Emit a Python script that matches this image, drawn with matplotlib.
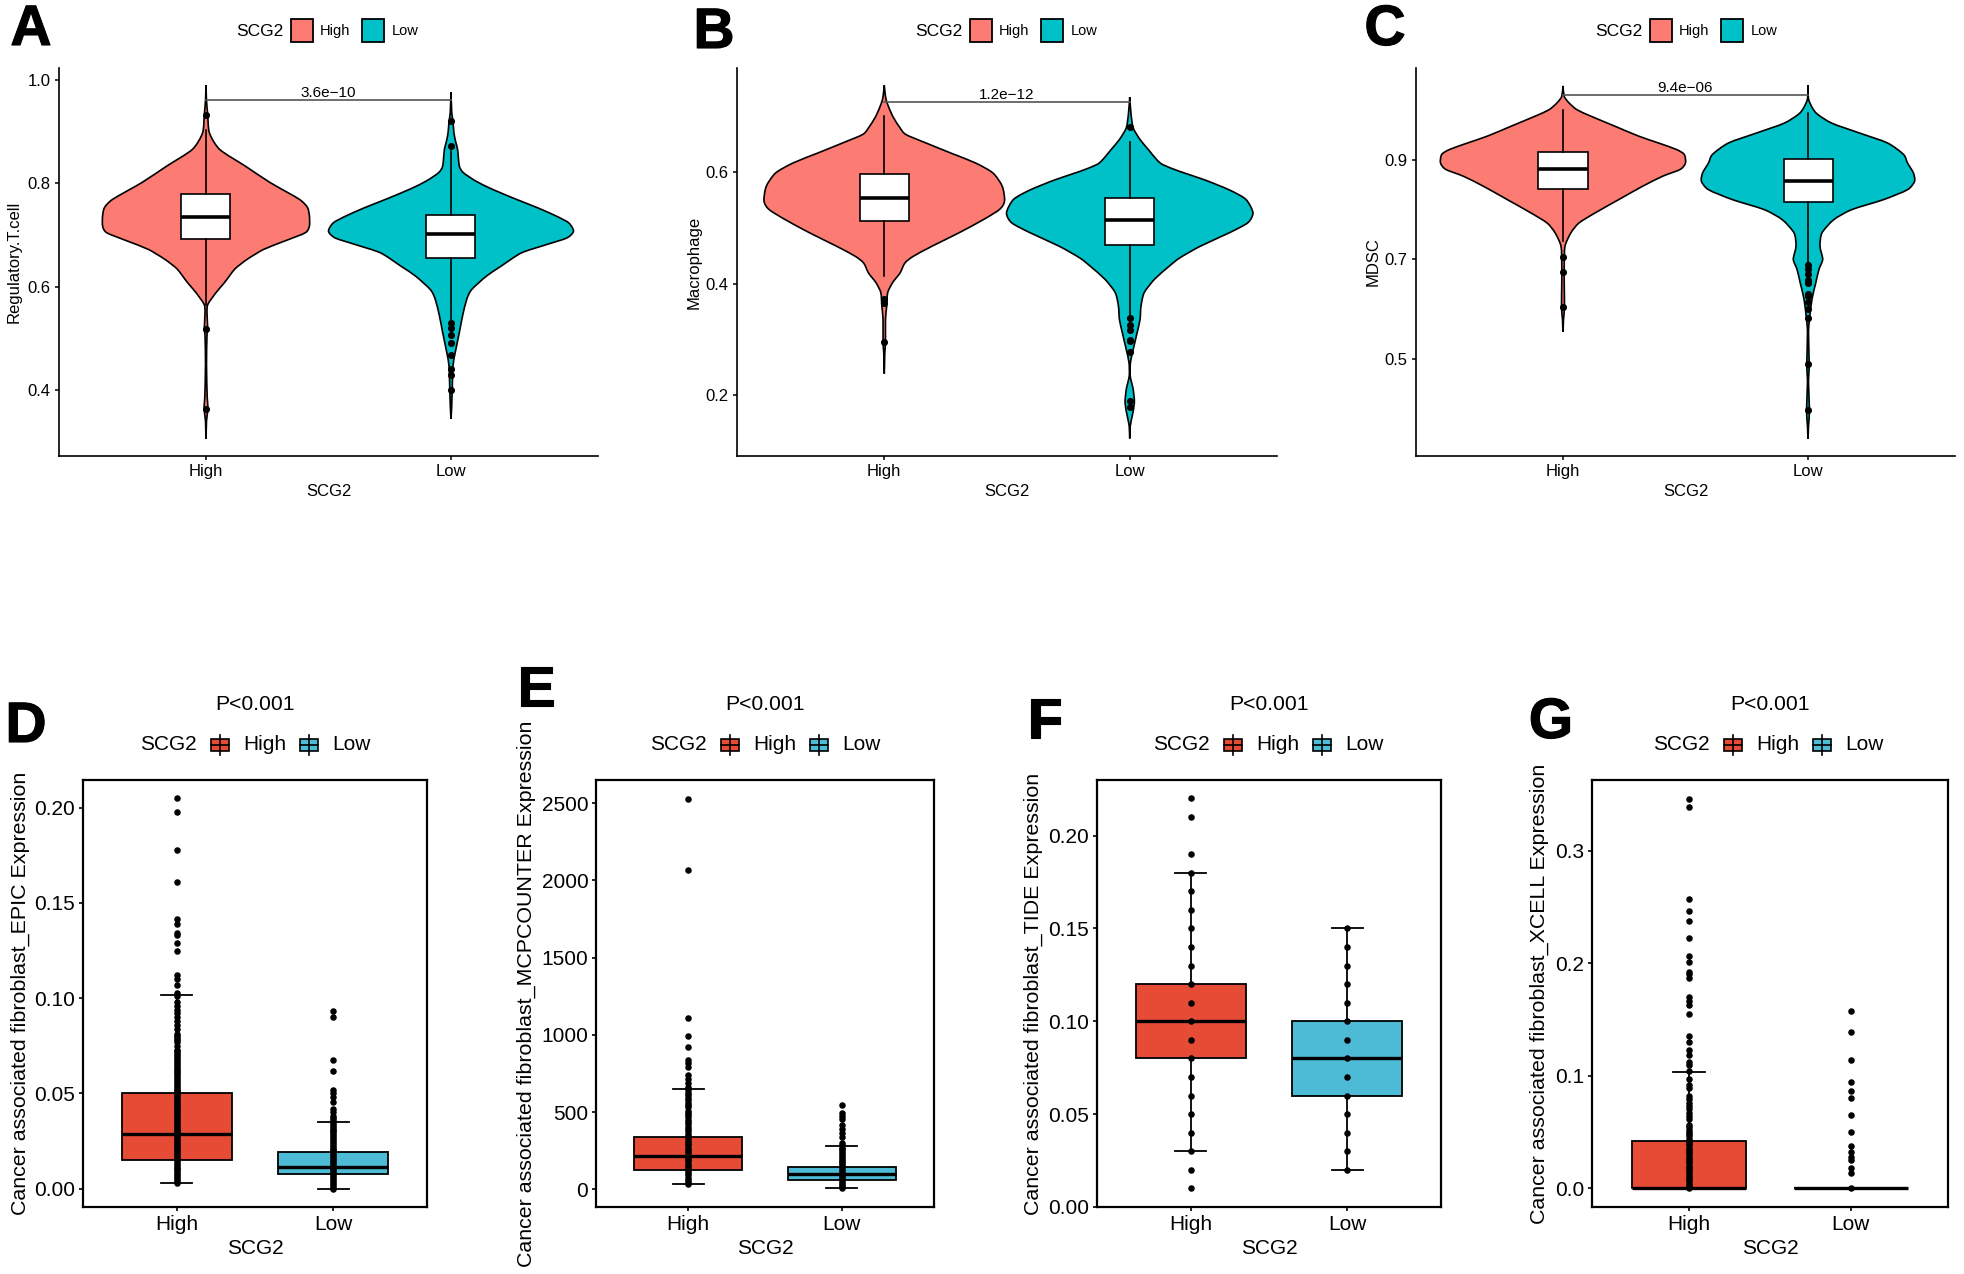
import matplotlib
matplotlib.use("Agg")
import matplotlib.pyplot as plt
import matplotlib.patheffects as pe
from matplotlib.patches import Rectangle, PathPatch
from matplotlib.path import Path
from matplotlib.lines import Line2D

plt.rcParams['font.family'] = ['Liberation Sans', 'DejaVu Sans']

W, H = 1965, 1274

groups = ["High", "Low"]
legend_title = "SCG2"

# violin outlines: value, half width
a_high_y = [.989, .960, .932, .897, .865, .833, .801, .769, .753, .737, .717, .704, .688, .672, .653, .634, .608, .589, .566, .550, .518, .505, .449, .385, .365, .340, .306]
a_high_w = [0, .002, .007, .014, .056, .160, .262, .380, .414, .422, .422, .405, .321, .236, .169, .118, .076, .042, .008, .004, .007, .004, .002, .005, .008, .002, 0]
a_low_y = [.976, .936, .920, .897, .878, .865, .833, .820, .804, .788, .768, .752, .736, .723, .707, .694, .681, .665, .639, .620, .594, .575, .543, .511, .472, .446, .401, .344]
a_low_w = [0, .003, .008, .012, .020, .027, .034, .051, .101, .169, .270, .355, .431, .481, .500, .473, .389, .287, .203, .144, .084, .064, .047, .034, .017, .008, .005, 0]
b_high_y = [.755, .735, .723, .700, .679, .667, .652, .634, .616, .598, .574, .548, .533, .515, .491, .467, .449, .437, .419, .402, .384, .360, .336, .294, .276, .239]
b_high_w = [0, .005, .012, .034, .064, .088, .169, .270, .372, .443, .481, .490, .470, .405, .304, .194, .118, .084, .064, .034, .014, .010, .005, .005, .002, 0]
b_low_y = [.734, .705, .679, .658, .640, .622, .613, .601, .586, .568, .551, .527, .509, .491, .467, .446, .431, .408, .384, .360, .336, .312, .282, .259, .235, .211, .187, .163, .145, .123]
b_low_w = [0, .005, .014, .042, .076, .110, .135, .203, .304, .405, .473, .502, .481, .405, .287, .203, .160, .101, .059, .046, .042, .030, .014, .003, .002, .014, .019, .010, .002, 0]
c_high_y = [1.049, 1.028, 1.015, 1.001, .988, .968, .948, .934, .921, .911, .894, .881, .867, .847, .820, .793, .773, .753, .726, .686, .653, .602, .579, .554]
c_high_w = [0, .005, .024, .057, .114, .211, .308, .390, .463, .495, .500, .479, .406, .325, .227, .130, .065, .032, .008, .005, .005, .006, .002, 0]
c_low_y = [1.050, 1.021, .995, .974, .954, .934, .911, .894, .874, .857, .840, .820, .800, .780, .753, .726, .700, .680, .653, .619, .579, .552, .488, .452, .396, .364, .339]
c_low_w = [0, .003, .032, .097, .211, .325, .390, .406, .430, .435, .406, .308, .179, .106, .057, .049, .060, .045, .032, .016, .006, .002, .005, .002, .006, .002, 0]

# boxes: whislo, q1, med, q3, whishi
a_high_box = [.565, .691, .734, .779, .903]
a_low_box = [.536, .655, .702, .739, .862]
b_high_box = [.413, .512, .553, .596, .700]
b_low_box = [.342, .470, .514, .554, .653]
c_high_box = [.736, .842, .882, .916, 1.001]
c_low_box = [.693, .816, .857, .901, .995]
d_high_box = [.003, .015, .0285, .050, .1018]
d_low_box = [0, .0077, .0115, .019, .0352]
e_high_box = [35, 122, 215, 340, 652]
e_low_box = [5, 62, 102, 147, 277]
f_high_box = [.03, .08, .10, .12, .18]
f_low_box = [.02, .06, .08, .10, .15]
g_high_box = [0, 0, 0, .0415, .103]
g_low_box = [0, 0, 0, 0, 0]

# points
a_high_pts = [.931, .518, .364]
a_low_pts = [.92, .871, .53, .52, .507, .491, .467, .44, .43, .40]
b_high_pts = [.372, .366, .295]
b_low_pts = [.68, .339, .327, .318, .30, .297, .278, .191, .18]
c_high_pts = [.704, .675, .603]
c_low_pts = [.688, .681, .671, .659, .653, .631, .626, .614, .599, .582, .489, .396]
d_high_pts = [.2049, .198, .178, .161, .1417, .139, .1344, .133, .129, .125, .112, .110, .107, .1025, .101, .098, .096, .094, .092, .090, .088, .086, .084, .081,
              .080, .079, .078, .077, .075, .073, .072, .071, .070, .069, .068, .067, .066, .065, .064, .063, .062, .061, .060, .059, .058, .057, .056, .055,
              .054, .053, .052, .051, .050, .049, .048, .047, .046, .045, .044, .043, .042, .041, .040, .039, .038, .037, .036, .035, .034, .033, .032, .031,
              .030, .029, .028, .027, .026, .025, .024, .023, .022, .021, .020, .019, .018, .017, .016, .015, .014, .013, .012, .011, .010, .009, .008, .007,
              .006, .005, .004, .003]
d_low_pts = [.0931, .0903, .0674, .0617, .0518, .050, .048, .0457, .042, .0403, .038, .037, .036, .035, .034, .033, .032, .031, .030, .029, .028, .027, .026, .025,
             .024, .023, .022, .021, .020, .019, .018, .017, .016, .015, .014, .013, .012, .011, .010, .009, .008, .007, .006, .005, .004, .003, .002, .001, 0]
e_high_pts = [2530, 2070, 1109, 992, 924, 839, 819, 794, 739, 714, 689, 664, 640, 625, 610, 590, 575, 560, 545, 530, 510, 495, 480, 465, 450, 435, 420, 405, 390,
              375, 360, 345, 330, 315, 300, 285, 270, 255, 240, 225, 210, 195, 180, 165, 150, 135, 120, 105, 90, 75, 60, 45, 35]
e_low_pts = [545, 495, 477, 452, 415, 390, 365, 340, 302, 285, 270, 258, 246, 234, 222, 210, 198, 186, 174, 162, 150, 138, 126, 114, 102, 90, 78, 66, 54, 42, 30, 18, 5]
f_high_pts = [.22, .21, .19, .18, .17, .16, .15, .14, .13, .12, .11, .10, .09, .08, .07, .06, .05, .04, .03, .02, .01]
f_low_pts = [.15, .14, .13, .12, .11, .10, .09, .08, .07, .06, .05, .04, .03, .02]
g_high_pts = [.346, .339, .257, .246, .2376, .222, .206, .201, .192, .19, .187, .17, .166, .163, .155, .135, .13, .123, .118, .112, .109, .104, .097, .092, .089,
              .082, .079, .076, .073, .070, .067, .064, .061, .056, .054, .052, .050, .048, .046, .044, .042, .040, .038, .036, .034, .032, .030, .028, .026,
              .024, .022, .020, .018, .016, .014, .012, .010, .008, .006, .004, .002, 0]
g_low_pts = [.157, .1385, .114, .0946, .0864, .080, .0651, .050, .037, .032, .028, .025, .018, .013, 0]

fig = plt.figure(figsize=(W / 100, H / 100), dpi=100, facecolor='white')


def make_axes(left, top, right, bottom):
    return fig.add_axes([left / W, 1 - bottom / H, (right - left) / W, (bottom - top) / H])


def box_stats(vals):
    return {'whislo': vals[0], 'q1': vals[1], 'med': vals[2], 'q3': vals[3], 'whishi': vals[4], 'fliers': []}


def draw_box(ax, boxes, width, capw, colors, lw, med_lw):
    res = ax.bxp([box_stats(b) for b in boxes], positions=[1, 2], widths=width, capwidths=capw,
                 patch_artist=True, showfliers=False, manage_ticks=False,
                 boxprops=dict(linewidth=lw, edgecolor='black'),
                 medianprops=dict(color='black', linewidth=med_lw, solid_capstyle='butt'),
                 whiskerprops=dict(color='black', linewidth=lw),
                 capprops=dict(color='black', linewidth=lw), zorder=3)
    for patch, c in zip(res['boxes'], colors):
        patch.set_facecolor(c)


def text_px(x, y, s, size, ha='center', **kw):
    fig.text(x / W, 1 - y / H, s, fontsize=size, ha=ha, va='center', **kw)


# curved outline through the read knots, goes down one side and back up the other
def violin_path(pos, y, w):
    xs = [pos + v for v in w] + [pos - v for v in w[::-1]][1:]
    ys = list(y) + list(y[::-1])[1:]
    verts = [(xs[0], ys[0])]
    codes = [Path.MOVETO]
    n = len(xs)
    for i in range(n - 1):
        x0, y0 = xs[max(i - 1, 0)], ys[max(i - 1, 0)]
        x1, y1 = xs[i], ys[i]
        x2, y2 = xs[i + 1], ys[i + 1]
        x3, y3 = xs[min(i + 2, n - 1)], ys[min(i + 2, n - 1)]
        verts += [(x1 + (x2 - x0) / 8, y1 + (y2 - y0) / 8), (x2 - (x3 - x1) / 8, y2 - (y3 - y1) / 8), (x2, y2)]
        codes += [Path.CURVE4] * 3
    return Path(verts, codes)


def violin_panel(rect, ylabel, ylabel_x, ylim, yticks, v_high, v_low, boxes, pts, bracket, ptext, letter, letter_xy, legend_x):
    ax = make_axes(*rect)
    for i, (y, w) in enumerate([v_high, v_low]):
        ax.add_patch(PathPatch(violin_path(i + 1, y, w), facecolor=['#FC7B72', '#00C1C8'][i],
                               edgecolor='black', linewidth=1.2, zorder=2))
    draw_box(ax, boxes, 0.2, 0.0, ['white', 'white'], 1.2, 2.6)
    for i, p in enumerate(pts):
        ax.scatter([i + 1] * len(p), p, s=26, color='black', zorder=4, linewidths=0)
    ax.plot([1, 2], [bracket, bracket], color='#555555', linewidth=1.2, zorder=5)
    ax.text(1.5, bracket, ptext, fontsize=11, ha='center', va='bottom', zorder=6)
    ax.set_xlim(0.4, 2.6)
    ax.set_ylim(*ylim)
    ax.set_xticks([1, 2], groups)
    ax.set_yticks(yticks, [f"{t:.1f}" for t in yticks])
    ax.tick_params(labelsize=12, length=3, width=1.1, pad=3)
    ax.spines['top'].set_visible(False)
    ax.spines['right'].set_visible(False)
    ax.spines['left'].set_linewidth(1.2)
    ax.spines['bottom'].set_linewidth(1.2)
    ax.set_ylabel(ylabel, fontsize=12, va='center')
    ax.yaxis.set_label_coords((ylabel_x - rect[0]) / (rect[2] - rect[0]), 0.5)
    ax.set_xlabel(legend_title, fontsize=12, va='center')
    ax.xaxis.set_label_coords(0.5, -(492 - rect[3]) / (rect[3] - rect[1]))
    # legend
    text_px(legend_x, 31, legend_title, 12.5, ha='left')
    for dx, c, lab, tx in [(55, '#FC7B72', 'High', 84), (126, '#00C1C8', 'Low', 156)]:
        fig.add_artist(Rectangle(((legend_x + dx) / W, 1 - 42 / H), 22 / W, 23 / H, transform=fig.transFigure,
                                 facecolor=c, edgecolor='black', linewidth=1.3))
        text_px(legend_x + tx, 31, lab, 10.5, ha='left')
    text_px(*letter_xy, letter, 41, fontweight='bold', path_effects=[pe.withStroke(linewidth=0.8, foreground='black')])


def box_panel(rect, ylabel, ylabel_x, ylim, yticks, ticklabels, boxes, pts, letter, letter_xy, legend_x):
    ax = make_axes(*rect)
    draw_box(ax, boxes, 0.7, 0.2, ['#E64B35', '#4DBBD5'], 1.3, 2.4)
    for i, p in enumerate(pts):
        ax.scatter([i + 1] * len(p), p, s=22, color='black', zorder=4, linewidths=0)
    ax.set_xlim(0.4, 2.6)
    ax.set_ylim(*ylim)
    ax.set_xticks([1, 2], groups)
    ax.set_yticks(yticks, ticklabels)
    ax.tick_params(labelsize=15, length=3, width=1.2, pad=2.5)
    for s in ax.spines.values():
        s.set_linewidth(1.6)
    ax.set_ylabel(ylabel, fontsize=15.4, va='center')
    ax.yaxis.set_label_coords((ylabel_x - rect[0]) / (rect[2] - rect[0]), 0.5)
    ax.set_xlabel(legend_title, fontsize=15, va='center')
    ax.xaxis.set_label_coords(0.5, -(1249 - rect[3]) / (rect[3] - rect[1]))
    text_px((rect[0] + rect[2]) / 2, 704, "P<0.001", 15.2)
    # legend
    text_px(legend_x, 745, legend_title, 15, ha='left')
    for dx, c, lab, tx in [(71, '#E64B35', 'High', 103), (160, '#4DBBD5', 'Low', 192)]:
        x0 = legend_x + dx
        fig.add_artist(Line2D([(x0 + 9) / W] * 2, [1 - 735 / H, 1 - 755 / H], transform=fig.transFigure, color='black', linewidth=1.2))
        fig.add_artist(Rectangle((x0 / W, 1 - 751 / H), 18 / W, 12 / H, transform=fig.transFigure,
                                 facecolor=c, edgecolor='black', linewidth=1.2))
        fig.add_artist(Line2D([x0 / W, (x0 + 18) / W], [1 - 745 / H] * 2, transform=fig.transFigure, color='black', linewidth=1.2))
        text_px(legend_x + tx, 745, lab, 15, ha='left')
    text_px(*letter_xy, letter, 41, fontweight='bold', path_effects=[pe.withStroke(linewidth=0.8, foreground='black')])


violin_panel((59, 68, 598, 456), "Regulatory.T.cell", 14, (0.2725, 1.0225), [0.4, 0.6, 0.8, 1.0],
             (a_high_y, a_high_w), (a_low_y, a_low_w), [a_high_box, a_low_box], [a_high_pts, a_low_pts],
             0.96, "3.6e\u221210", "A", (31, 30), 236)
violin_panel((737, 68, 1277, 456), "Macrophage", 694, (0.0917, 0.786), [0.2, 0.4, 0.6],
             (b_high_y, b_high_w), (b_low_y, b_low_w), [b_high_box, b_low_box], [b_high_pts, b_low_pts],
             0.726, "1.2e\u221212", "B", (714, 33), 915)
violin_panel((1416, 68, 1955, 456), "MDSC", 1373, (0.304, 1.085), [0.5, 0.7, 0.9],
             (c_high_y, c_high_w), (c_low_y, c_low_w), [c_high_box, c_low_box], [c_high_pts, c_low_pts],
             1.031, "9.4e\u221206", "C", (1385, 30), 1595)

box_panel((83, 780, 427, 1207), "Cancer associated fibroblast_EPIC Expression", 20, (-0.0097, 0.2146),
          [0, .05, .10, .15, .20], ["0.00", "0.05", "0.10", "0.15", "0.20"],
          [d_high_box, d_low_box], [d_high_pts, d_low_pts], "D", (26, 727), 140)
box_panel((596, 780, 934, 1207), "Cancer associated fibroblast_MCPCOUNTER Expression", 526, (-115, 2651),
          [0, 500, 1000, 1500, 2000, 2500], ["0", "500", "1000", "1500", "2000", "2500"],
          [e_high_box, e_low_box], [e_high_pts, e_low_pts], "E", (536, 691), 650)
box_panel((1097, 780, 1441, 1207), "Cancer associated fibroblast_TIDE Expression", 1033, (0, 0.2299),
          [0, .05, .10, .15, .20], ["0.00", "0.05", "0.10", "0.15", "0.20"],
          [f_high_box, f_low_box], [f_high_pts, f_low_pts], "F", (1045, 723), 1153)
box_panel((1592, 780, 1948, 1207), "Cancer associated fibroblast_XCELL Expression", 1539, (-0.0168, 0.3627),
          [0, .1, .2, .3], ["0.0", "0.1", "0.2", "0.3"],
          [g_high_box, g_low_box], [g_high_pts, g_low_pts], "G", (1551, 723), 1653)

fig.savefig("out.png", dpi=100)
